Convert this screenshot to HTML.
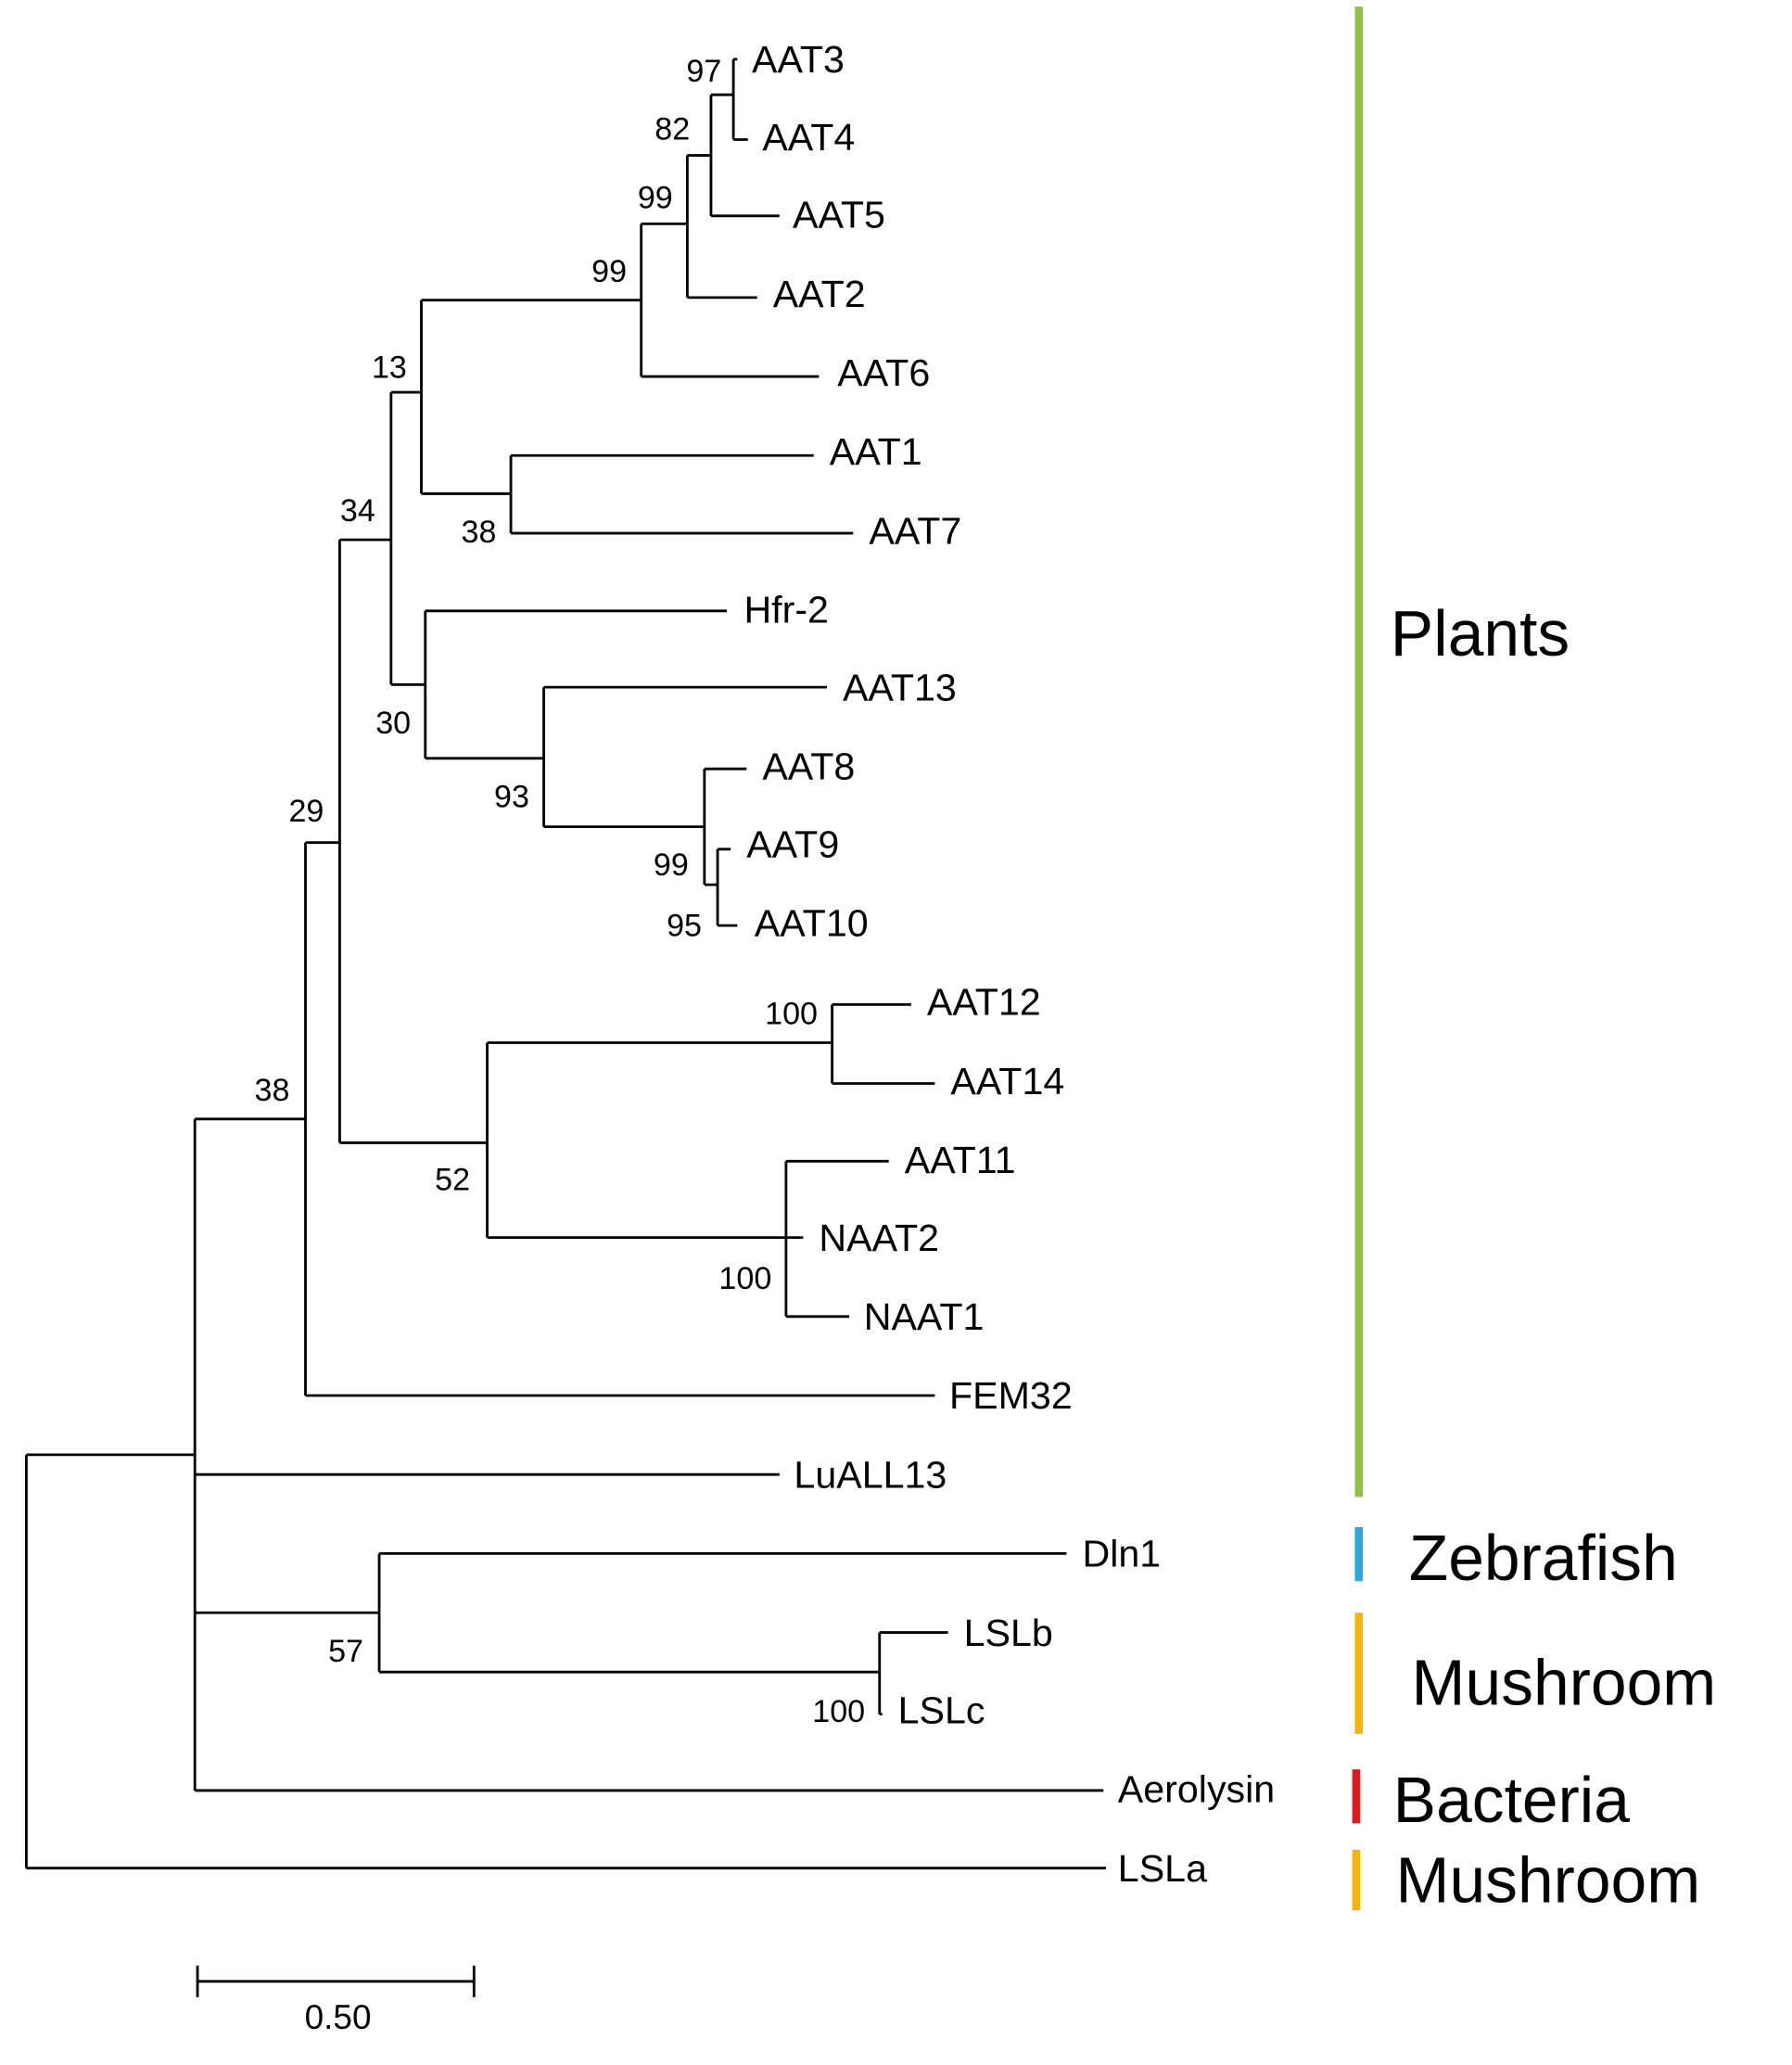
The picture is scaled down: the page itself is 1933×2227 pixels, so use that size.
<!DOCTYPE html>
<html><head><meta charset="utf-8"><style>html,body{margin:0;padding:0;background:#fff}</style></head>
<body>
<svg xmlns="http://www.w3.org/2000/svg" width="1933" height="2222" viewBox="0 0 1361 1565" preserveAspectRatio="none">
<g stroke="#000" stroke-width="2" fill="none">
<path d="M20 1105V1419M20 1105H148M20 1419H840"/>
<path d="M148 850V1360M148 850H232M148 1120H592M148 1225H288M148 1360H838"/>
<path d="M232 640V1060M232 640H258M232 1060H710"/>
<path d="M258 410V868M258 410H297M258 868H370"/>
<path d="M297 298V520M297 298H320M297 520H323"/>
<path d="M320 228V375M320 228H487M320 375H388"/>
<path d="M487 170V286M487 170H522M487 286H622"/>
<path d="M522 118V226M522 118H540M522 226H575"/>
<path d="M540 72V164M540 72H557M540 164H592"/>
<path d="M557 45V106M557 45H560M557 106H568"/>
<path d="M388 346V405M388 346H618M388 405H648"/>
<path d="M323 464V576M323 464H552M323 576H413"/>
<path d="M413 522V628M413 522H628M413 628H535"/>
<path d="M535 584V672M535 584H567M535 672H545"/>
<path d="M545 645V703M545 645H555M545 703H560"/>
<path d="M370 792V940M370 792H632M370 940H597"/>
<path d="M632 763V823M632 763H692M632 823H710"/>
<path d="M597 882V1000M597 882H675M597 940H610M597 1000H645"/>
<path d="M288 1180V1270M288 1180H810M288 1270H668"/>
<path d="M668 1240V1302M668 1240H720M668 1302H670"/>
<path d="M150 1505H360M150 1493V1517M360 1493V1517"/>
</g>
<g font-family="Liberation Sans, sans-serif" font-size="29" fill="#000">
<text x="571" y="55">AAT3</text><text x="579" y="114">AAT4</text><text x="602" y="173">AAT5</text>
<text x="587" y="233">AAT2</text><text x="636" y="293">AAT6</text><text x="630" y="353">AAT1</text>
<text x="660" y="413">AAT7</text><text x="565" y="473">Hfr-2</text><text x="640" y="532">AAT13</text>
<text x="579" y="592">AAT8</text><text x="567" y="651">AAT9</text><text x="573" y="711">AAT10</text>
<text x="704" y="771">AAT12</text><text x="722" y="831">AAT14</text><text x="687" y="891">AAT11</text>
<text x="622" y="950">NAAT2</text><text x="656" y="1010">NAAT1</text><text x="721" y="1070">FEM32</text>
<text x="603" y="1130">LuALL13</text><text x="822" y="1190">Dln1</text><text x="732" y="1250">LSLb</text>
<text x="682" y="1309">LSLc</text><text x="849" y="1369">Aerolysin</text><text x="849" y="1429">LSLa</text>
</g>
<g font-family="Liberation Sans, sans-serif" font-size="24" fill="#000" text-anchor="end">
<text x="548" y="62">97</text><text x="524" y="106">82</text><text x="511" y="158">99</text>
<text x="476" y="214">99</text><text x="309" y="287">13</text><text x="377" y="412">38</text>
<text x="285" y="396">34</text><text x="312" y="557">30</text><text x="402" y="613">93</text>
<text x="523" y="665">99</text><text x="533" y="711">95</text><text x="246" y="624">29</text>
<text x="621" y="778">100</text><text x="357" y="904">52</text><text x="586" y="979">100</text>
<text x="220" y="836">38</text><text x="276" y="1262">57</text><text x="657" y="1308">100</text>
<text x="282" y="1541" font-size="26">0.50</text>
</g>
<rect x="1029" y="5" width="6" height="1132" fill="#8cc63f"/>
<rect x="1029" y="1160" width="6" height="41" fill="#29a8e0"/>
<rect x="1029" y="1225" width="6" height="92" fill="#f7b500"/>
<rect x="1027" y="1344" width="6" height="41" fill="#e5161b"/>
<rect x="1027" y="1405" width="6" height="46" fill="#f7b500"/>
<g font-family="Liberation Sans, sans-serif" font-size="49" fill="#000">
<text x="1056" y="498">Plants</text>
<text x="1070" y="1200">Zebrafish</text>
<text x="1072" y="1295">Mushroom</text>
<text x="1058" y="1384">Bacteria</text>
<text x="1060" y="1445">Mushroom</text>
</g>
</svg>
</body></html>
